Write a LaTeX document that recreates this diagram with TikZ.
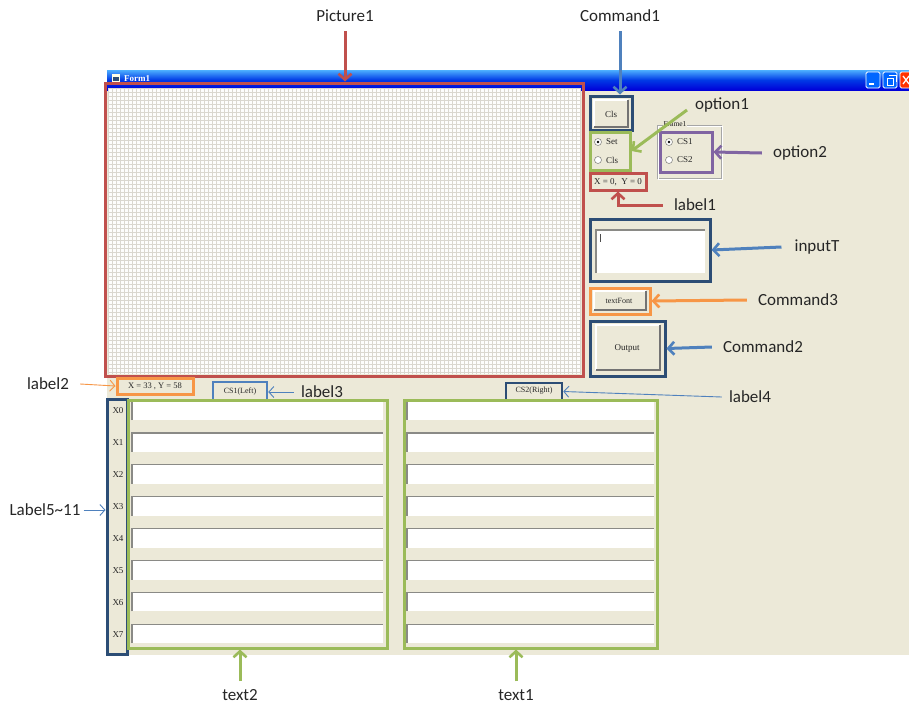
\documentclass[tikz,border=0pt]{standalone}
\usepackage{fontspec}
\setmainfont{Liberation Serif}
\newfontfamily\calloutfont{Carlito}
\usetikzlibrary{arrows.meta,fit}
\definecolor{winbg}{HTML}{ECE9D8}
\definecolor{cred}{HTML}{C0504D}
\definecolor{cblue}{HTML}{4F81BD}
\definecolor{cnavy}{HTML}{2C4D75}
\definecolor{cgreen}{HTML}{9BBB59}
\definecolor{corange}{HTML}{F79646}
\definecolor{cpurple}{HTML}{8064A2}
\definecolor{gridc}{HTML}{DAD7CF}
\definecolor{sunk}{HTML}{8A8A86}
\tikzset{
  hl/.style={draw=#1, line width=3pt, inner sep=0pt},
  callout/.style={font=\calloutfont\fontsize{17}{19}\selectfont, text=black!85, inner sep=1pt},
  fat/.style={draw=#1, line width=3pt, -{Straight Barb[length=6pt,width=13pt,line width=2.6pt]}},
  thinarr/.style={draw=#1, line width=0.9pt, -{Straight Barb[length=5pt,width=11pt,line width=0.9pt]}},
  ctl/.style={font=\fontsize{9}{10}\selectfont, inner sep=0pt, text=black!85},
  radio/.style={draw=sunk, fill=white, line width=0.6pt},
}
% raised push button: face, light top-left edge, dark bottom-right edge
\newcommand\xpbutton[4]{%
  \fill[winbg] (#1,#2) rectangle (#3,#4);
  \draw[white, line width=1.2pt] (#1,#4) -- (#1,#2) -- (#3,#2);
  \draw[black!55, line width=1.4pt] (#1,#4) -- (#3,#4) -- (#3,#2);
}
% sunken text field
\newcommand\xpfield[4]{%
  \fill[white] (#1,#2) rectangle (#3,#4);
  \draw[sunk, line width=1.2pt] (#1,#4) -- (#1,#2) -- (#3,#2);
}
\begin{document}
\begin{tikzpicture}[x=1pt,y=-1pt]
\useasboundingbox (0,0) rectangle (909,707);
\fill[white] (0,0) rectangle (909,707);

% ---- window ----
\fill[winbg] (107,88) rectangle (909,655);
\shade[top color=blue!45!cyan!70!white, bottom color=blue!85!black, middle color=blue!75!cyan!90!black]
  (107,70) rectangle (909,90);
\fill[white!90!yellow] (112,74) rectangle (120,82);
\fill[cnavy] (113,77) rectangle (119,81);
\node[anchor=west, text=white, font=\bfseries\fontsize{9}{10}\selectfont, inner sep=0pt] (formtitle) at (124,79) {Form1};
% caption buttons
\foreach \bx in {866,883} {
  \fill[blue!60!cyan, draw=white, line width=0.8pt, rounded corners=1.5pt] (\bx,72) rectangle (\bx+14,88);
}
\draw[white, line width=1.5pt] (869,84) -- (874,84);
\draw[white, line width=0.8pt] (887,78) rectangle (893,85) (889,75) -- (896,75) -- (896,82);
\fill[orange!40!red, draw=white, line width=0.8pt, rounded corners=1.5pt] (900,72) rectangle (914,88);
\draw[white, line width=1.3pt] (903,76) -- (909,84) (903,84) -- (909,76);

% ---- drawing surface with grid ----
\fill[white!92!winbg] (108,88) rectangle (580,374);
\foreach \gx in {108,112,...,580} \draw[gridc, line width=0.5pt] (\gx,88) -- (\gx,374);
\foreach \gy in {88,92,...,374} \draw[gridc, line width=0.5pt] (108,\gy) -- (580,\gy);

% ---- Cls button ----
\xpbutton{594}{100}{628}{127}
\node[ctl] (clstext) at (611,114) {Cls};

% ---- option1 radios ----
\draw[radio] (598,142) circle (3.5);
\fill[black] (598,142) circle (1.4);
\node[ctl, anchor=west] (setopt) at (606,142) {Set};
\draw[radio] (598,160) circle (3.5);
\node[ctl, anchor=west] (clsopt) at (606,160) {Cls};

% ---- Frame1 group ----
\draw[black!35, line width=0.6pt] (657,125) rectangle (721,178);
\draw[white, line width=0.6pt] (658,126) rectangle (722,179);
\node[ctl, fill=winbg, inner xsep=1pt, font=\fontsize{7.5}{8}\selectfont, text=black!90] (frametitle) at (675,124) {Frame1};
\draw[radio] (669,142) circle (3.5);
\fill[black] (669,142) circle (1.4);
\node[ctl, anchor=west] (cs1opt) at (677,142) {CS1};
\draw[radio] (669,160) circle (3.5);
\node[ctl, anchor=west] (cs2opt) at (677,160) {CS2};

% ---- label1 ----
\node[ctl] (xy1) at (618,182) {X = 0,\enspace Y = 0};

% ---- inputT text box ----
\xpfield{596}{230}{705}{273}
\draw[black!70, line width=0.6pt] (600,234) -- (600,242);

% ---- textFont and Output buttons ----
\xpbutton{594}{291}{646}{310}
\node[ctl, font=\fontsize{8}{9}\selectfont] (tftext) at (619,301) {textFont};
\xpbutton{596}{325}{660}{370}
\node[ctl] (outtext) at (627,348) {Output};

% ---- label2, label3, label4 ----
\node[ctl, font=\fontsize{8.5}{9}\selectfont] (xy2) at (155,386) {X = 33 , Y = 58};
\node[ctl, font=\fontsize{8}{9}\selectfont] (cs1left) at (240,392) {CS1(Left)};
\node[ctl, font=\fontsize{8}{9}\selectfont] (cs2right) at (534,391) {CS2(Right)};

% ---- row labels and the two columns of text fields ----
\foreach \i in {0,...,7} {
  \pgfmathsetmacro\top{401+31.9*\i}
  \xpfield{132}{\top}{383}{\top+19}
  \xpfield{407}{\top}{654}{\top+19}
  \node[ctl] (rowlbl\i) at (118,\top+10) {X\i};
}

% ---- highlight frames ----
\node[hl=cred, fit={(105,83) (583,376)}] (picbox) {};
\node[hl=cnavy, fit={(590,96) (632,130)}] (cmd1box) {};
\node[hl=cgreen, fit={(590,132) (630,170)}] (opt1box) {};
\node[hl=cpurple, fit={(660,132) (712,172)}] (opt2box) {};
\node[hl=cred, fit={(590,173) (646,190)}] (lab1box) {};
\node[hl=cnavy, fit={(590,219) (710,281)}] (inbox) {};
\node[hl=corange, fit={(590,288) (650,314)}] (cmd3box) {};
\node[hl=cnavy, fit={(590,321) (665,376)}] (cmd2box) {};
\node[hl=corange, fit={(117,378) (193,394)}] (lab2box) {};
\node[draw=cblue, line width=2.5pt, inner sep=0pt, fit={(213,382) (267,401)}] (lab3box) {};
\node[draw=cnavy, line width=2.5pt, inner sep=0pt, fit={(506,383) (562,400)}] (lab4box) {};
\node[hl=cnavy, fit={(107,399) (127,654)}] (rowbox) {};
\node[hl=cgreen, fit={(128,400) (387,648)}] (t2box) {};
\node[hl=cgreen, fit={(404,400) (657,648)}] (t1box) {};

% ---- callout texts ----
\node[callout] (piclbl) at (345,16) {Picture1};
\node[callout] (cmd1lbl) at (620,16) {Command1};
\node[callout] (opt1lbl) at (722,105) {option1};
\node[callout] (opt2lbl) at (800,153) {option2};
\node[callout] (lab1lbl) at (695,205) {label1};
\node[callout] (inlbl) at (817,247) {inputT};
\node[callout] (cmd3lbl) at (798,300) {Command3};
\node[callout] (cmd2lbl) at (763,347) {Command2};
\node[callout] (lab2lbl) at (48,384) {label2};
\node[callout] (lab3lbl) at (322,392) {label3};
\node[callout] (lab4lbl) at (750,397) {label4};
\node[callout] (rowslbl) at (45,510) {Label5\textasciitilde11};
\node[callout] (t2lbl) at (240,695) {text2};
\node[callout] (t1lbl) at (516,695) {text1};

% ---- connectors ----
\coordinate (opt1tail) at (687,110);
\draw[fat=cred] ([yshift=-8pt]piclbl.south) -- (piclbl.south |- picbox.north);
\draw[fat=cblue] ([yshift=-8pt]cmd1lbl.south) -- (cmd1lbl.south |- cmd1box.north);
\draw[fat=cgreen] (opt1tail) -- (opt1box.east);
\draw[fat=cpurple] ([xshift=-10pt]opt2lbl.west) -- (opt2box.east);
\draw[fat=cred] ([xshift=-10pt]lab1lbl.west) -| (lab1box.south);
\draw[fat=cblue] ([xshift=-12pt]inlbl.west) -- (inbox.east);
\draw[fat=corange] ([xshift=-10pt]cmd3lbl.west) -- (cmd3box.east);
\draw[fat=cblue] ([xshift=-10pt]cmd2lbl.west) -- (cmd2box.east);
\draw[thinarr=corange] ([xshift=10pt]lab2lbl.east) -- (lab2box.west);
\draw[thinarr=cblue] ([xshift=-6pt]lab3lbl.west) -- (lab3lbl.west -| lab3box.east);
\draw[thinarr=cblue] ([xshift=-6pt]lab4lbl.west) -- (lab4box.east);
\draw[thinarr=cblue] ([xshift=2pt]rowslbl.east) -- (rowslbl.east -| rowbox.west);
\draw[fat=cgreen] ([yshift=7pt]t2lbl.north) -- (t2lbl.north |- t2box.south);
\draw[fat=cgreen] ([yshift=7pt]t1lbl.north) -- (t1lbl.north |- t1box.south);
\end{tikzpicture}
\end{document}
